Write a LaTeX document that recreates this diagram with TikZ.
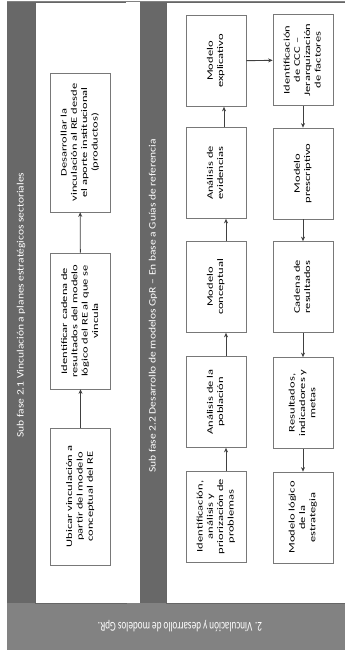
\documentclass[tikz,border=0pt]{standalone}
\usepackage{fontspec}
\setmainfont{Carlito}
\usetikzlibrary{arrows.meta}
\definecolor{marco}{RGB}{130,130,130}
\definecolor{franja}{RGB}{104,104,104}
\definecolor{borde}{RGB}{120,120,120}
\newcommand{\girado}[1]{\rotatebox{90}{\scalebox{1}[0.68]{\begin{tabular}{@{}c@{}}#1\end{tabular}}}}
\begin{document}
\begin{tikzpicture}[x=1pt,y=-1pt,
		caja/.style={draw=borde,fill=white,line width=0.7pt,inner sep=0pt,minimum width=60pt,minimum height=91pt,font=\fontsize{12.5}{15.2}\selectfont},
		flecha/.style={draw=black!75,line width=0.9pt,-{Stealth[length=4.5pt,width=4pt]}},
		titulo/.style={text=white,inner sep=0pt,font=\fontsize{11.5}{14}\selectfont}]
			\useasboundingbox (0,0) rectangle (345,653);
			% fondo y franjas
			\fill[marco] (7,1) rectangle (345,650);
			\fill[franja] (7,2) rectangle (35,603);
			\fill[franja] (140,2) rectangle (166,603);
			\draw[fill=white,draw=black!60,line width=0.6pt] (35,2) rectangle (126,603);
			\fill[white] (126.4,2) rectangle (140,603);
			\draw[fill=white,draw=black!60,line width=0.6pt] (166,2) rectangle (345,603);
			\node[titulo] (sf21) at (21,305) {\rotatebox{90}{\scalebox{1}[0.85]{Sub fase 2.1 Vinculación a planes estratégicos sectoriales}}};
			\node[titulo] (sf22) at (153,306) {\rotatebox{90}{\scalebox{1}[0.85]{Sub fase 2.2 Desarrollo de modelos GpR – En base a Guías de referencia}}};
			\node[titulo,font=\fontsize{13.5}{16}\selectfont] (fase) at (180,626) {\rotatebox{180}{\scalebox{0.68}[1]{2. Vinculación y desarrollo de modelos GpR.}}};
			% sub fase 2.1
			\node[caja,minimum height=137pt] (ubicar) at (80.5,496.5) {\girado{Ubicar vinculación a\\partir del modelo\\conceptual del RE}};
			\node[caja,minimum height=136pt] (cadenare) at (80.5,321) {\girado{Identificar cadena de\\resultados del modelo\\lógico del RE al que se\\vincula}};
			\node[caja,minimum height=139pt] (desarrollar) at (80,142.5) {\girado{Desarrollar la\\vinculación al RE desde\\el aporte institucional\\(productos)}};
			\draw[flecha] (ubicar) -- (cadenare);
			\draw[flecha] (cadenare) -- (desarrollar);
			% sub fase 2.2
			\node[caja] (problemas) at (216,516.5) {\girado{Identificación,\\análisis y\\priorización de\\problemas}};
			\node[caja] (poblacion) at (216,402) {\girado{Análisis de la\\población}};
			\node[caja] (conceptual) at (216,287) {\girado{Modelo\\conceptual}};
			\node[caja] (evidencias) at (216,173) {\girado{Análisis de\\evidencias}};
			\node[caja] (explicativo) at (216,61) {\girado{Modelo\\explicativo}};
			\node[caja] (ccc) at (303,60) {\girado{Identificación\\de CCC –\\Jerarquización\\de factores}};
			\node[caja] (prescriptivo) at (303,173.5) {\girado{Modelo\\prescriptivo}};
			\node[caja] (cadena) at (303,287) {\girado{Cadena de\\resultados}};
			\node[caja] (indicadores) at (303,403) {\girado{Resultados,\\indicadores y\\metas}};
			\node[caja] (logico) at (303,517.5) {\girado{Modelo lógico\\de la\\estrategia}};
			\draw[flecha] ([xshift=10pt]problemas.north) -- ([xshift=10pt]poblacion.south);
			\draw[flecha] ([xshift=10pt]poblacion.north) -- ([xshift=10pt]conceptual.south);
			\draw[flecha] ([xshift=10pt]conceptual.north) -- ([xshift=10pt]evidencias.south);
			\draw[flecha] ([xshift=8pt]evidencias.north) -- ([xshift=8pt]explicativo.south);
			\draw[flecha] (explicativo) -- (ccc);
			\draw[flecha] (ccc) -- (prescriptivo);
			\draw[flecha] (prescriptivo) -- (cadena);
			\draw[flecha] (cadena) -- (indicadores);
			\draw[flecha] (indicadores) -- (logico);
		\end{tikzpicture}
\end{document}
